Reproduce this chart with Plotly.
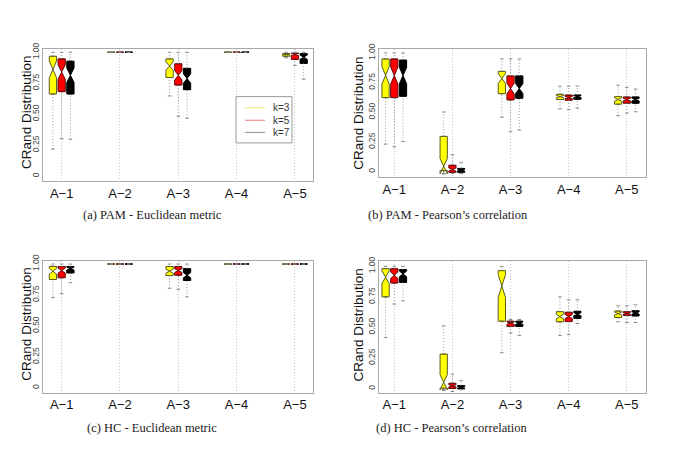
import math
import plotly.graph_objects as go

categories = ["A\u22121", "A\u22122", "A\u22123", "A\u22124", "A\u22125"]
k_labels = ["k=3", "k=5", "k=7"]
captions = ["(a) PAM - Euclidean metric", "(b) PAM - Pearson\u2019s correlation",
            "(c) HC - Euclidean metric", "(d) HC - Pearson\u2019s correlation"]
sample_size = 50  # used for the notch (R: 1.58*IQR/sqrt(n))

# ---- (a) PAM - Euclidean metric : rows k=3, k=5, k=7 ; columns A-1..A-5
pam_euc_lower = [[0.218, 1.0, 0.647, 1.0, 0.955],
                 [0.302, 1.0, 0.483, 1.0, 0.894],
                 [0.297, 1.0, 0.467, 1.0, 0.783]]
pam_euc_q1 = [[0.663, 1.0, 0.796, 1.0, 0.968],
              [0.682, 1.0, 0.735, 1.0, 0.942],
              [0.663, 1.0, 0.698, 1.0, 0.910]]
pam_euc_median = [[0.862, 1.0, 0.889, 1.0, 0.985],
                  [0.840, 1.0, 0.814, 1.0, 0.985],
                  [0.814, 1.0, 0.788, 1.0, 0.960]]
pam_euc_q3 = [[0.968, 1.0, 0.947, 1.0, 0.990],
              [0.947, 1.0, 0.907, 1.0, 0.990],
              [0.928, 1.0, 0.870, 1.0, 0.990]]
pam_euc_upper = [[1.0, 1.0, 1.0, 1.0, 1.0],
                 [1.0, 1.0, 1.0, 1.0, 1.0],
                 [1.0, 1.0, 1.0, 1.0, 1.0]]

# ---- (b) PAM - Pearson's correlation
pam_pea_lower = [[0.232, -0.015, 0.459, 0.530, 0.472],
                 [0.210, -0.015, 0.337, 0.522, 0.494],
                 [0.254, -0.015, 0.351, 0.536, 0.505]]
pam_pea_q1 = [[0.624, 0.011, 0.657, 0.608, 0.569],
              [0.624, -0.005, 0.605, 0.602, 0.577],
              [0.635, -0.005, 0.619, 0.610, 0.577]]
pam_pea_median = [[0.812, 0.047, 0.785, 0.633, 0.608],
                  [0.810, 0.019, 0.700, 0.624, 0.608],
                  [0.810, 0.014, 0.700, 0.633, 0.608]]
pam_pea_q3 = [[0.950, 0.298, 0.845, 0.652, 0.633],
              [0.950, 0.055, 0.807, 0.646, 0.630],
              [0.940, 0.028, 0.807, 0.646, 0.630]]
pam_pea_upper = [[1.0, 0.503, 0.950, 0.721, 0.729],
                 [1.0, 0.144, 0.950, 0.721, 0.710],
                 [1.0, 0.077, 0.950, 0.721, 0.696]]

# ---- (c) HC - Euclidean metric
hc_euc_lower = [[0.729, 1.0, 0.804, 1.0, 1.0],
                [0.761, 1.0, 0.796, 1.0, 1.0],
                [0.849, 1.0, 0.735, 1.0, 1.0]]
hc_euc_q1 = [[0.875, 1.0, 0.907, 1.0, 1.0],
             [0.889, 1.0, 0.910, 1.0, 1.0],
             [0.928, 1.0, 0.867, 1.0, 1.0]]
hc_euc_median = [[0.942, 1.0, 0.942, 1.0, 1.0],
                 [0.947, 1.0, 0.947, 1.0, 1.0],
                 [0.963, 1.0, 0.910, 1.0, 1.0]]
hc_euc_q3 = [[0.981, 1.0, 0.980, 1.0, 1.0],
             [0.980, 1.0, 0.980, 1.0, 1.0],
             [0.980, 1.0, 0.963, 1.0, 1.0]]
hc_euc_upper = [[1.0, 1.0, 1.0, 1.0, 1.0],
                [1.0, 1.0, 1.0, 1.0, 1.0],
                [1.0, 1.0, 1.0, 1.0, 1.0]]

# ---- (d) HC - Pearson's correlation
hc_pea_lower = [[0.417, -0.016, 0.293, 0.435, 0.546],
                [0.691, -0.024, 0.454, 0.441, 0.540],
                [0.718, -0.010, 0.435, 0.532, 0.540]]
hc_pea_q1 = [[0.750, 0.003, 0.551, 0.546, 0.581],
             [0.863, 0.000, 0.508, 0.548, 0.597],
             [0.868, -0.003, 0.508, 0.575, 0.594]]
hc_pea_median = [[0.911, 0.051, 0.839, 0.589, 0.613],
                 [0.927, 0.022, 0.535, 0.589, 0.613],
                 [0.938, 0.008, 0.535, 0.608, 0.618]]
hc_pea_q3 = [[0.981, 0.282, 0.965, 0.629, 0.634],
             [0.981, 0.043, 0.551, 0.624, 0.629],
             [0.973, 0.024, 0.551, 0.632, 0.637]]
hc_pea_upper = [[1.0, 0.513, 1.0, 0.750, 0.677],
                [1.0, 0.118, 0.565, 0.726, 0.677],
                [1.0, 0.065, 0.565, 0.726, 0.685]]

yticks = [0, 0.25, 0.5, 0.75, 1.0]
ytick_text = ["0", "0.25", "0.50", "0.75", "1.00"]

# ---------------- figure construction ----------------
W, H = 685, 465
fill_colors = ["#FFFF00", "#FF0000", "#000000"]
edge_colors = ["#5a5a20", "#5a1010", "#000000"]
legend_colors = ["#eeee66", "#ee8080", "#8c8c8c"]
offsets = [-0.15, 0.0, 0.15]
box_w = 0.125
cap_half = box_w * 0.25

panels = [
    (pam_euc_lower, pam_euc_q1, pam_euc_median, pam_euc_q3, pam_euc_upper),
    (pam_pea_lower, pam_pea_q1, pam_pea_median, pam_pea_q3, pam_pea_upper),
    (hc_euc_lower, hc_euc_q1, hc_euc_median, hc_euc_q3, hc_euc_upper),
    (hc_pea_lower, hc_pea_q1, hc_pea_median, hc_pea_q3, hc_pea_upper),
]
# pixel boxes of each plotting region: (left, right, top, bottom)
regions = [(43, 313, 42.7, 176.7), (379, 646, 42.7, 172.7),
           (43, 313, 257.7, 391.7), (379, 646, 257.7, 391.7)]
xranges = [[0.68, 5.31], [0.737, 5.33], [0.68, 5.31], [0.737, 5.33]]
yranges = [[-0.04, 1.026], [-0.045, 1.033], [-0.04, 1.026], [-0.035, 1.045]]
ytitle_pos = [(27, 107.5), (358.3, 108), (27, 322.5), (358.3, 323)]
caption_pos = [(152, 211), (447.5, 211), (152, 427), (451, 427)]

fig = go.Figure()
pos = list(range(1, len(categories) + 1))

for p, (lo, q1s, meds, q3s, up) in enumerate(panels):
    xa = "x" if p == 0 else f"x{p+1}"
    ya = "y" if p == 0 else f"y{p+1}"
    for k in range(3):
        xs = [c + offsets[k] for c in pos]
        notch = [1.58 * (b - a) / math.sqrt(sample_size) for a, b in zip(q1s[k], q3s[k])]
        # whiskers (dotted) and staples
        wx, wy, cx, cy = [], [], [], []
        for i, x in enumerate(xs):
            wx += [x, x, None, x, x, None]
            wy += [q3s[k][i], up[k][i], None, lo[k][i], q1s[k][i], None]
            cx += [x - cap_half, x + cap_half, None, x - cap_half, x + cap_half, None]
            cy += [up[k][i], up[k][i], None, lo[k][i], lo[k][i], None]
        fig.add_trace(go.Scatter(x=wx, y=wy, mode="lines", xaxis=xa, yaxis=ya,
                                 line=dict(color="#9a9a9a", width=1, dash="1px,2px"),
                                 showlegend=False, hoverinfo="skip"))
        fig.add_trace(go.Box(x=xs, q1=q1s[k], median=meds[k], q3=q3s[k],
                             lowerfence=q1s[k], upperfence=q3s[k], notchspan=notch,
                             notched=True, notchwidth=0.5, width=box_w,
                             fillcolor=fill_colors[k],
                             line=dict(color=edge_colors[k], width=1),
                             boxpoints=False, xaxis=xa, yaxis=ya,
                             showlegend=False, hoverinfo="skip"))
        fig.add_trace(go.Scatter(x=cx, y=cy, mode="lines", xaxis=xa, yaxis=ya,
                                 line=dict(color="#8c8c8c", width=1),
                                 showlegend=False, hoverinfo="skip"))

layout_axes = {}
annotations = []
shapes = []
for p in range(4):
    L, R, T, B = regions[p]
    xk = "xaxis" if p == 0 else f"xaxis{p+1}"
    yk = "yaxis" if p == 0 else f"yaxis{p+1}"
    yname = "y" if p == 0 else f"y{p+1}"
    xname = "x" if p == 0 else f"x{p+1}"
    layout_axes[xk] = dict(domain=[L / W, R / W], anchor=yname, range=xranges[p],
                           tickvals=pos, ticktext=categories, ticks="",
                           showgrid=True, gridcolor="#c4c4c4", griddash="1px,2px", gridwidth=1,
                           zeroline=False, showline=True, mirror=True,
                           linecolor="#a8a8a8", linewidth=1,
                           tickfont=dict(family="Liberation Sans, Arial", size=13, color="#111"))
    layout_axes[yk] = dict(domain=[1 - B / H, 1 - T / H], anchor=xname, range=yranges[p],
                           tickvals=yticks, ticktext=ytick_text, tickangle=-90,
                           ticks="", showgrid=False, zeroline=False,
                           showline=True, mirror=True, linecolor="#a8a8a8", linewidth=1,
                           tickfont=dict(family="Liberation Sans, Arial", size=8.5, color="#444"))
    tx, ty = ytitle_pos[p]
    annotations.append(dict(text="CRand Distribution", x=tx / W, y=1 - ty / H,
                            xref="paper", yref="paper", showarrow=False, textangle=-90,
                            xanchor="center", yanchor="middle",
                            font=dict(family="Liberation Sans, Arial", size=13.5, color="#111")))
    cx_, cy_ = caption_pos[p]
    annotations.append(dict(text=captions[p], x=cx_ / W, y=1 - cy_ / H,
                            xref="paper", yref="paper", showarrow=False,
                            xanchor="center", yanchor="middle",
                            font=dict(family="Liberation Serif, Times New Roman", size=12.5, color="#222")))

# legend box in panel (a), drawn in paper space
leg_L, leg_R, leg_T, leg_B = 236, 292, 91, 138
shapes.append(dict(type="rect", xref="paper", yref="paper",
                   x0=leg_L / W, x1=leg_R / W, y0=1 - leg_B / H, y1=1 - leg_T / H,
                   line=dict(color="#9a9a9a", width=1), fillcolor="white", layer="above"))
leg_rows = [102.3, 115, 127.3]
for k in range(3):
    shapes.append(dict(type="line", xref="paper", yref="paper",
                       x0=245 / W, x1=265 / W, y0=1 - leg_rows[k] / H, y1=1 - leg_rows[k] / H,
                       line=dict(color=legend_colors[k], width=1), layer="above"))
    annotations.append(dict(text=k_labels[k], x=271 / W, y=1 - leg_rows[k] / H,
                            xref="paper", yref="paper", showarrow=False,
                            xanchor="left", yanchor="middle",
                            font=dict(family="Liberation Sans, Arial", size=10, color="#333")))

fig.update_layout(
    width=W, height=H, margin=dict(l=0, r=0, t=0, b=0),
    paper_bgcolor="white", plot_bgcolor="white", boxmode="overlay",
    showlegend=False,
    annotations=annotations, shapes=shapes,
    **layout_axes,
)

fig.write_html("out.html", config={"displayModeBar": False},
               post_script="document.body.style.margin='0';")
